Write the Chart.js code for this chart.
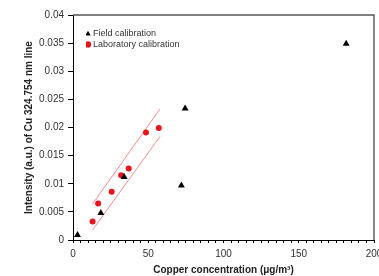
<!DOCTYPE html>
<html>
<head>
<meta charset="utf-8">
<script src="https://cdn.jsdelivr.net/npm/chart.js@4.4.1/dist/chart.umd.min.js"></script>
<style>
html,body{margin:0;padding:0;background:#fff;}
#wrap{width:379px;height:276px;position:relative;}
</style>
</head>
<body>
<div id="wrap"><canvas id="c" width="379" height="276"></canvas></div>
<script>
// ---- data ----
const fieldX = [3, 18.5, 34, 72, 74.5, 181.5];
const fieldY = [0.0009, 0.0048, 0.0112, 0.0097, 0.0234, 0.0349];
const labX = [13, 16.7, 25.7, 32, 37, 48.5, 57];
const labY = [0.0033, 0.0065, 0.0086, 0.0115, 0.0127, 0.0191, 0.0199];
const bandX = [13, 57.8];
const bandUpperY = [0.0064, 0.0233];
const bandLowerY = [0.0018, 0.0184];
const xTickStep = 5;
const xLabelEvery = 50;
const yTickStep = 0.005;
const seriesLabels = ['Field calibration', 'Laboratory calibration'];
const xTitle = 'Copper concentration (\u03bcg/m\u00b3)';
const yTitle = 'Intensity (a.u.) of Cu 324.754 nm line';

const pts = (xs, ys) => xs.map((x, i) => ({x: x, y: ys[i]}));
const FONT = "'Liberation Sans', Arial, sans-serif";

const frame = {
  id: 'frame',
  beforeDatasetsDraw(chart) {
    const a = chart.chartArea, ctx = chart.ctx;
    ctx.save();
    ctx.strokeStyle = '#555';
    ctx.lineWidth = 1.4;
    ctx.beginPath();
    ctx.moveTo(a.left, a.top);
    ctx.lineTo(a.right, a.top);
    ctx.lineTo(a.right, a.bottom);
    ctx.stroke();
    ctx.restore();
  },
  afterLayout(chart) {
    const lg = chart.legend;
    if (lg) { lg.left = 86; lg.top = 28; }
  }
};

new Chart(document.getElementById('c'), {
  type: 'scatter',
  data: {
    datasets: [
      {label: seriesLabels[0], data: pts(fieldX, fieldY), pointStyle: 'triangle',
       backgroundColor: '#000', borderColor: '#000', pointRadius: 4, borderWidth: 0, order: 1},
      {label: seriesLabels[1], data: pts(labX, labY), pointStyle: 'circle',
       backgroundColor: '#e8141b', borderColor: '#e8141b', pointRadius: 3, borderWidth: 0, order: 2},
      {label: 'upper', data: pts(bandX, bandUpperY), showLine: true, pointRadius: 0,
       borderColor: '#f38e8e', borderWidth: 1, order: 3},
      {label: 'lower', data: pts(bandX, bandLowerY), showLine: true, pointRadius: 0,
       borderColor: '#f38e8e', borderWidth: 1, order: 3}
    ]
  },
  options: {
    responsive: false,
    animation: false,
    devicePixelRatio: 1,
    layout: {padding: {top: 15, right: 5, left: 0, bottom: 0}},
    plugins: {
      tooltip: {enabled: false},
      legend: {
        position: 'chartArea',
        align: 'start',
        labels: {
          usePointStyle: true,
          boxWidth: 1, boxHeight: 4.5,
          padding: 1.5,
          color: '#333',
          font: {family: FONT, size: 9, lineHeight: 1.0},
          filter: (item) => item.datasetIndex < 2
        }
      }
    },
    scales: {
      x: {
        type: 'linear', min: 0, max: 200,
        afterFit(s) { s.height = 36; s.paddingLeft = 0; s.paddingRight = 0; },
        grid: {display: true, drawOnChartArea: false, drawTicks: true, tickLength: 3, color: '#000'},
        border: {display: true, color: '#000', width: 1},
        ticks: {
          stepSize: xTickStep, autoSkip: false, maxRotation: 0, padding: 5,
          color: '#333', font: {family: FONT, size: 10},
          callback: (v) => (Math.abs(v % xLabelEvery) < 1e-9 ? String(v) : '')
        },
        title: {display: true, text: xTitle, color: '#222',
          font: {family: FONT, size: 10, weight: 'bold'}, padding: {top: 0, bottom: 0}}
      },
      y: {
        type: 'linear', min: 0, max: 0.04,
        afterFit(s) { s.width = 73; s.paddingTop = 0; s.paddingBottom = 0; },
        grid: {display: true, drawOnChartArea: false, drawTicks: true, tickLength: 5, color: '#000'},
        border: {display: true, color: '#000', width: 1},
        ticks: {
          stepSize: yTickStep, autoSkip: false, padding: 4,
          color: '#333', font: {family: FONT, size: 10},
          callback: (v) => String(Math.round(v * 1000) / 1000)
        },
        title: {display: true, text: yTitle, color: '#222',
          font: {family: FONT, size: 10, weight: 'bold'}, padding: {top: 23, bottom: 0}}
      }
    }
  },
  plugins: [frame]
});
</script>
</body>
</html>
